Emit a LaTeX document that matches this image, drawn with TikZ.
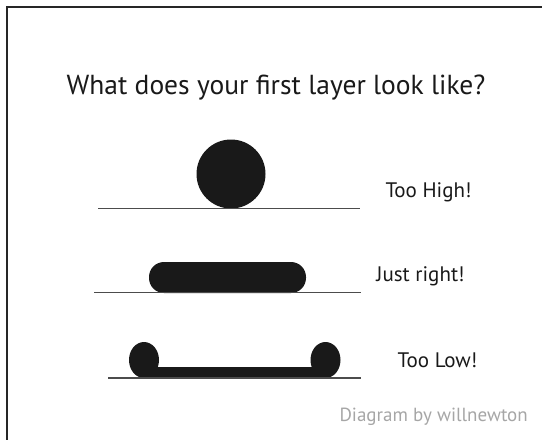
\documentclass[tikz,border=0pt]{standalone}
\usepackage{fontspec}
\setmainfont{PT Sans}
\begin{document}
\begin{tikzpicture}[x=1pt,y=-1pt,
  base/.style={draw=black!70,line width=1.2pt},
  blob/.style={fill=black!90,draw=none},
  lbl/.style={font=\fontsize{21}{24}\selectfont,text=black!90,inner sep=0pt}]
\useasboundingbox (0,0) rectangle (542,440);
% frame (left and top edges visible)
\draw[black!85,line width=1.8pt] (7,440) -- (7,7) -- (542,7);
% title
\node[font=\fontsize{27.5}{30}\selectfont,text=black!90,inner sep=0pt] (title) at (276,88) {What does your first layer look like?};
% row 1: too high
\fill[blob] (231,174) circle (34.5);
\coordinate (l1a) at (98,208.5);
\coordinate (l1b) at (360,208.5);
\draw[base] (l1a) -- (l1b);
\node[lbl] (high) at (428.5,192) {Too High!};
% row 2: just right
\fill[blob,rounded corners=15pt] (149,262) rectangle (306,293);
\coordinate (l2a) at (94,292.5);
\coordinate (l2b) at (361,292.5);
\draw[base] (l2a) -- (l2b);
\node[lbl] (right) at (420.5,276) {Just right!};
% row 3: too low
\fill[blob] (144,360) ellipse (15 and 18);
\fill[blob] (325.5,360) ellipse (15 and 18);
\fill[blob] (144,367) rectangle (325.5,378);
\coordinate (l3a) at (108,378);
\coordinate (l3b) at (361,378);
\draw[base] (l3a) -- (l3b);
\node[lbl] (low) at (437.5,360) {Too Low!};
% credit
\node[font=\fontsize{19}{21}\selectfont,text=black!35,inner sep=0pt,anchor=east] (credit) at (528,417) {Diagram by willnewton};
\end{tikzpicture}
\end{document}
